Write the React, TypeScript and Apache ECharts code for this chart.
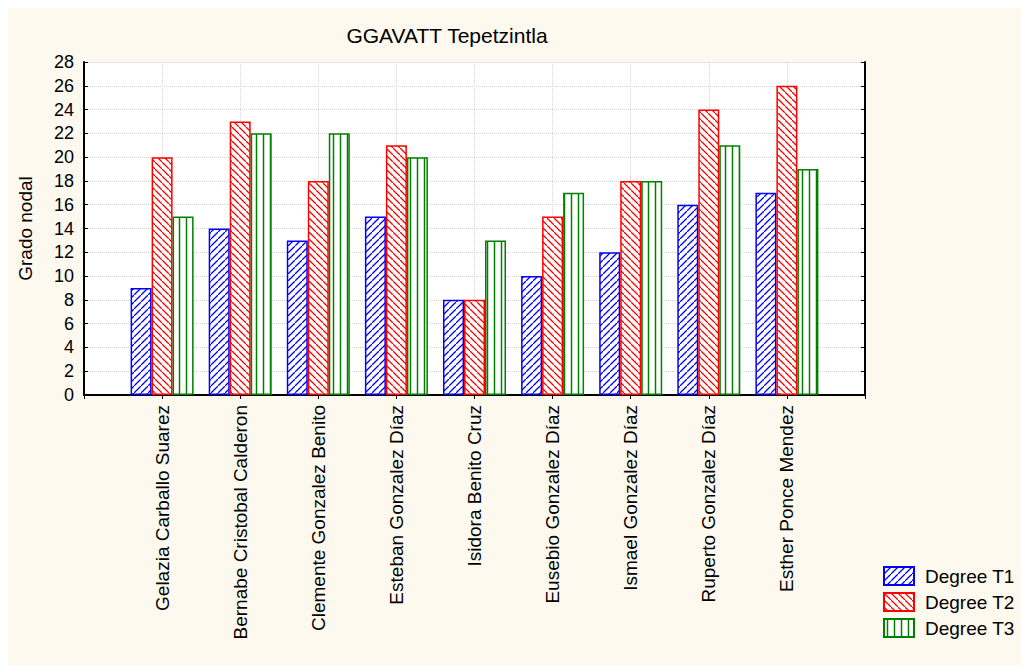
import React, { useEffect, useRef } from "react";
import * as echarts from "echarts";

const chartTitle = "GGAVATT Tepetzintla";
const yAxisName = "Grado nodal";
const categories = [
  "Gelazia Carballo Suarez",
  "Bernabe Cristobal Calderon",
  "Clemente Gonzalez Benito",
  "Esteban Gonzalez Díaz",
  "Isidora Benito Cruz",
  "Eusebio Gonzalez Díaz",
  "Ismael Gonzalez Díaz",
  "Ruperto Gonzalez Díaz",
  "Esther Ponce Mendez",
];
const seriesNames = ["Degree T1", "Degree T2", "Degree T3"];
const degreeT1 = [9, 14, 13, 15, 8, 10, 12, 16, 17];
const degreeT2 = [20, 23, 18, 21, 8, 15, 18, 24, 26];
const degreeT3 = [15, 22, 22, 20, 13, 17, 18, 21, 19];
const yMin = 0;
const yMax = 28;
const yStep = 2;

const FONT = "'Liberation Sans', Arial, sans-serif";

function makeTile(kind: "fwd" | "back" | "vert", color: string): HTMLCanvasElement {
  const s = 7;
  const c = document.createElement("canvas");
  c.width = s;
  c.height = s;
  const ctx = c.getContext("2d")!;
  ctx.fillStyle = "#ffffff";
  ctx.fillRect(0, 0, s, s);
  ctx.strokeStyle = color;
  ctx.lineWidth = 1.3;
  ctx.beginPath();
  if (kind === "fwd") {
    ctx.moveTo(-1, s + 1);
    ctx.lineTo(s + 1, -1);
    ctx.moveTo(-2, 1);
    ctx.lineTo(1, -2);
    ctx.moveTo(s - 1, s + 2);
    ctx.lineTo(s + 2, s - 1);
  } else if (kind === "back") {
    ctx.moveTo(-1, -1);
    ctx.lineTo(s + 1, s + 1);
    ctx.moveTo(-2, s - 1);
    ctx.lineTo(1, s + 2);
    ctx.moveTo(s - 1, -2);
    ctx.lineTo(s + 2, 1);
  } else {
    ctx.lineWidth = 1.5;
    ctx.moveTo(3.5, 0);
    ctx.lineTo(3.5, s);
  }
  ctx.stroke();
  return c;
}

export default function App() {
  const ref = useRef<HTMLDivElement>(null);
  useEffect(() => {
    if (!ref.current) return;
    const chart = echarts.init(ref.current, undefined, { renderer: "svg" });
    const axisData = ["", ...categories, ""];
    const pad = (arr: number[]) => ["-", ...arr, "-"];
    const colors = ["#0000ff", "#ff0000", "#008000"];
    const kinds: ("fwd" | "back" | "vert")[] = ["fwd", "back", "vert"];
    const values = [degreeT1, degreeT2, degreeT3];
    const series = values.map((v, i) => ({
      name: seriesNames[i],
      type: "bar",
      xAxisIndex: 0,
      yAxisIndex: 0,
      data: pad(v),
      barWidth: 21,
      barGap: "0%",
      itemStyle: {
        color: { image: makeTile(kinds[i], colors[i]), repeat: "repeat" },
        borderColor: colors[i],
        borderWidth: 1.5,
      },
    }));
    const dotted = { show: true, lineStyle: { color: "#d6d6d6", type: "dotted", width: 1 } };
    chart.setOption({
      animation: false,
      backgroundColor: "#fef9ee",
      title: {
        text: chartTitle,
        left: 434,
        top: 12,
        textAlign: "center",
        textStyle: { fontFamily: FONT, fontSize: 21, fontWeight: "normal", color: "#000" },
      },
      grid: {
        left: 74,
        top: 54,
        right: 156,
        bottom: 270,
        show: true,
        backgroundColor: "#ffffff",
        borderWidth: 0,
      },
      legend: {
        orient: "vertical",
        left: 870,
        top: 553,
        itemWidth: 30,
        itemHeight: 18,
        itemGap: 6,
        icon: "rect",
        data: seriesNames,
        textStyle: { fontFamily: FONT, fontSize: 19, lineHeight: 18, color: "#000", padding: [0, 0, 0, 6] },
      },
      xAxis: [
        {
          type: "category",
          data: axisData,
          boundaryGap: false,
          position: "bottom",
          axisLine: { show: true, lineStyle: { color: "#000", width: 2 } },
          axisTick: { show: true, inside: true, length: 4, interval: 0, lineStyle: { color: "#000" } },
          axisLabel: {
            interval: 0,
            rotate: 90,
            margin: 10,
            fontFamily: FONT,
            fontSize: 19,
            color: "#000",
          },
          splitLine: { ...dotted, interval: 0 },
        },
        {
          type: "category",
          data: axisData,
          boundaryGap: false,
          position: "top",
          axisLine: { show: true, lineStyle: { color: "#000", width: 2 } },
          axisTick: { show: true, inside: true, length: 4, interval: 0, lineStyle: { color: "#000" } },
          axisLabel: { show: false },
          splitLine: { show: false },
        },
      ],
      yAxis: [
        {
          type: "value",
          min: yMin,
          max: yMax,
          interval: yStep,
          position: "left",
          name: yAxisName,
          nameLocation: "middle",
          nameRotate: 90,
          nameGap: 49,
          nameTextStyle: { fontFamily: FONT, fontSize: 19, color: "#000" },
          axisLine: { show: true, lineStyle: { color: "#000", width: 2 } },
          axisTick: { show: true, inside: true, length: 4, lineStyle: { color: "#000" } },
          axisLabel: { margin: 10, fontFamily: FONT, fontSize: 18, color: "#000" },
          splitLine: dotted,
        },
        {
          type: "value",
          min: yMin,
          max: yMax,
          interval: yStep,
          position: "right",
          axisLine: { show: true, lineStyle: { color: "#000", width: 2 } },
          axisTick: { show: true, inside: true, length: 4, lineStyle: { color: "#000" } },
          axisLabel: { show: false },
          splitLine: { show: false },
        },
      ],
      series,
    });
    return () => chart.dispose();
  }, []);
  return (
    <div
      ref={ref}
      style={{ position: "absolute", left: 8, top: 8, width: 1013, height: 657 }}
    />
  );
}
